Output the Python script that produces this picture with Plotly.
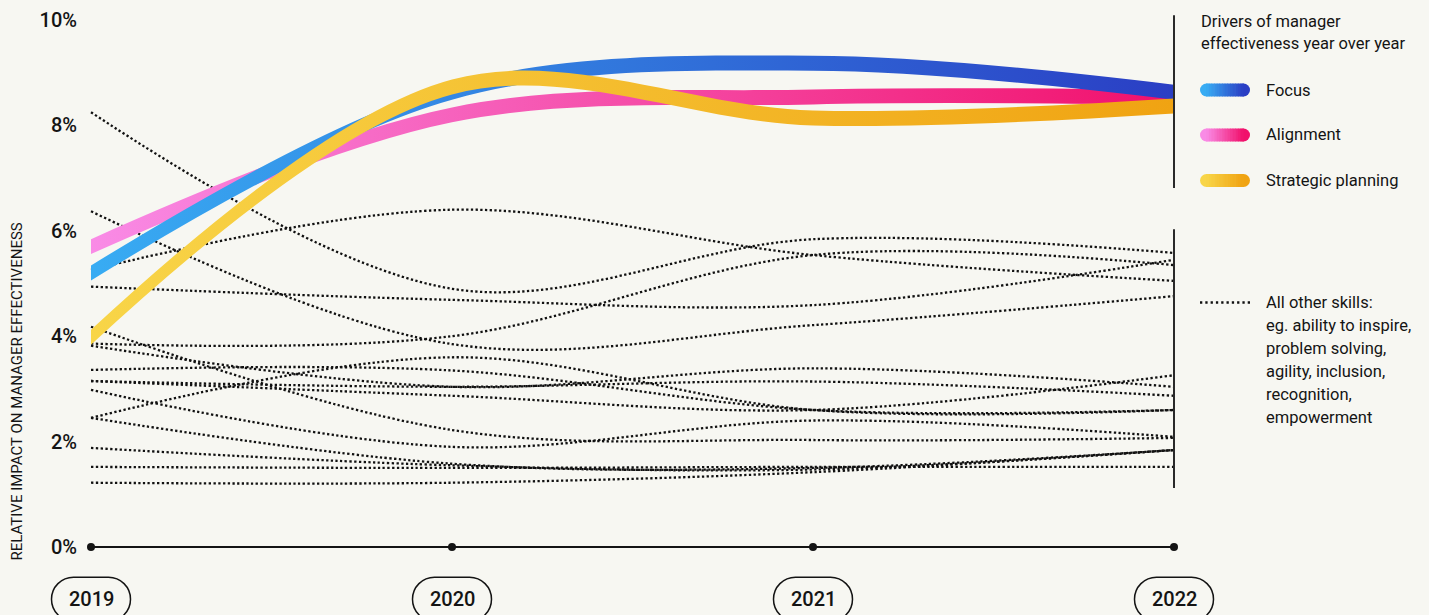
import plotly.graph_objects as go

# ---------------- data ----------------
years = [2019, 2020, 2021, 2022]
year_labels = ["2019", "2020", "2021", "2022"]

focus = [5.20, 8.63, 9.18, 8.63]
alignment = [5.70, 8.20, 8.54, 8.53]
strategic = [3.98, 8.73, 8.14, 8.37]

# "All other skills": the i-th entry of each year array belongs to the same skill
other_2019 = [8.25, 5.26, 6.37, 4.94, 3.86, 4.18, 3.82, 3.36, 3.15, 3.15, 2.98, 2.45, 2.45, 1.88, 1.52, 1.22]
other_2020 = [4.90, 6.40, 3.85, 4.69, 4.00, 2.22, 3.04, 3.35, 2.87, 3.04, 1.90, 3.60, 1.58, 1.55, 1.50, 1.22]
other_2021 = [5.84, 5.54, 4.21, 4.59, 5.54, 2.03, 3.39, 2.60, 2.60, 3.14, 2.40, 2.60, 1.50, 1.47, 1.52, 1.42]
other_2022 = [5.58, 5.05, 4.76, 5.45, 5.35, 2.07, 3.04, 2.60, 3.26, 2.87, 2.09, 2.60, 1.84, 1.84, 1.52, 1.84]

y_ticks = [0, 2, 4, 6, 8, 10]
y_tick_labels = ["0%", "2%", "4%", "6%", "8%", "10%"]

driver_names = ["Focus", "Alignment", "Strategic planning"]
legend_title = ["Drivers of manager", "effectiveness year over year"]
other_text = ["All other skills:", "eg. ability to inspire,", "problem solving,",
              "agility, inclusion,", "recognition,", "empowerment"]
axis_title = "RELATIVE IMPACT ON MANAGER EFFECTIVENESS"

# ---------------- style ----------------
W, H = 1429, 615
BG = "#F7F7F2"
INK = "#141414"
FONT = "Roboto"
gradients = {
    "Focus": ("#38ACF3", "#2A3EC4"),
    "Alignment": ("#F98BE6", "#F1106B"),
    "Strategic planning": ("#F8D548", "#F0A312"),
}
HALF = 0.142  # half thickness of driver bands (in % units)

fig = go.Figure()

# dotted lines: all other skills
for i in range(len(other_2019)):
    vals = [other_2019[i], other_2020[i], other_2021[i], other_2022[i]]
    fig.add_trace(go.Scatter(
        x=years, y=vals, mode="lines",
        line=dict(color="#111111", width=2.3, dash="2.3px,2.4px", shape="spline"),
        hoverinfo="skip", showlegend=False))

# driver bands with horizontal gradient (pink, blue, yellow on top)
for name, series in [("Alignment", alignment), ("Focus", focus), ("Strategic planning", strategic)]:
    c0, c1 = gradients[name]
    fig.add_trace(go.Scatter(
        x=years, y=[v - HALF for v in series], mode="lines",
        line=dict(width=0, shape="spline"), hoverinfo="skip", showlegend=False))
    fig.add_trace(go.Scatter(
        x=years, y=[v + HALF for v in series], mode="lines",
        line=dict(width=0, shape="spline"), fill="tonexty",
        fillgradient=dict(type="horizontal", colorscale=[[0, c0], [1, c1]]),
        name=name, hoverinfo="skip", showlegend=False))

# baseline with year dots
fig.add_trace(go.Scatter(
    x=years, y=[0] * len(years), mode="lines+markers",
    line=dict(color=INK, width=2), marker=dict(color=INK, size=8),
    hoverinfo="skip", showlegend=False))

shapes = []
annotations = []

# year pills + labels
PILL_Y = -0.99
k = 0.5523
hw, hh, r = 39.5, 22.0, 22.0
sx = hw - r
pill_path = (
    f"M {-sx},{hh} L {sx},{hh} "
    f"C {sx + k*r},{hh} {hw},{k*hh} {hw},0 "
    f"C {hw},{-k*hh} {sx + k*r},{-hh} {sx},{-hh} "
    f"L {-sx},{-hh} "
    f"C {-sx - k*r},{-hh} {-hw},{-k*hh} {-hw},0 "
    f"C {-hw},{k*hh} {-sx - k*r},{hh} {-sx},{hh} Z"
)
for yr, lab in zip(years, year_labels):
    shapes.append(dict(type="path", xref="x", yref="y", xsizemode="pixel", ysizemode="pixel",
                       xanchor=yr, yanchor=PILL_Y, path=pill_path,
                       line=dict(color=INK, width=1.5), fillcolor="rgba(0,0,0,0)"))
    annotations.append(dict(x=yr, y=PILL_Y, xref="x", yref="y", text=lab, showarrow=False,
                            xanchor="center", yanchor="middle",
                            font=dict(family=FONT, size=20, color=INK, weight=500)))

# divider lines at the 2022 column
for y0, y1 in [(6.81, 10.09), (1.12, 6.03)]:
    shapes.append(dict(type="line", xref="x", yref="y", x0=years[-1], x1=years[-1], y0=y0, y1=y1,
                       line=dict(color="#2a2a2a", width=2)))


def px(x):
    return x / W


def py(y):
    return 1 - y / H


def hex_to_rgb(h):
    h = h.lstrip("#")
    return tuple(int(h[j:j + 2], 16) for j in (0, 2, 4))


def mix(a, b, t):
    ra, rb = hex_to_rgb(a), hex_to_rgb(b)
    return "rgb(%d,%d,%d)" % tuple(round(ra[j] + (rb[j] - ra[j]) * t) for j in range(3))


def gradient_pill(xl, xr, yc, th, c0, c1, n=14):
    rr = th / 2
    out = [
        dict(type="circle", xref="paper", yref="paper", x0=px(xl), x1=px(xl + th),
             y0=py(yc + rr), y1=py(yc - rr), fillcolor=c0, line=dict(width=0)),
        dict(type="circle", xref="paper", yref="paper", x0=px(xr - th), x1=px(xr),
             y0=py(yc + rr), y1=py(yc - rr), fillcolor=c1, line=dict(width=0)),
    ]
    a, b = xl + rr, xr - rr
    step = (b - a) / n
    for j in range(n):
        out.append(dict(type="rect", xref="paper", yref="paper",
                        x0=px(a + j * step - 0.3), x1=px(a + (j + 1) * step + 0.3),
                        y0=py(yc + rr), y1=py(yc - rr),
                        fillcolor=mix(c0, c1, (j + 0.5) / n), line=dict(width=0)))
    return out


# legend
LX, TX = 1200, 1264
for txt, yy in zip(legend_title, [21.5, 43.5]):
    annotations.append(dict(x=px(LX - 1), y=py(yy), xref="paper", yref="paper", text=txt,
                            showarrow=False, xanchor="left", yanchor="middle",
                            font=dict(family=FONT, size=16.5, color=INK)))
for name, yy in zip(driver_names, [90, 135, 180.5]):
    c0, c1 = gradients[name]
    shapes += gradient_pill(LX, LX + 50, yy, 13, c0, c1)
    annotations.append(dict(x=px(TX), y=py(yy), xref="paper", yref="paper", text=name,
                            showarrow=False, xanchor="left", yanchor="middle",
                            font=dict(family=FONT, size=16.5, color=INK)))

shapes.append(dict(type="line", xref="paper", yref="paper", x0=px(LX), x1=px(LX + 50),
                   y0=py(302.5), y1=py(302.5), line=dict(color="#111111", width=2.3, dash="2.3px,3px")))
for j, txt in enumerate(other_text):
    annotations.append(dict(x=px(TX), y=py(302.5 + 22.9 * j), xref="paper", yref="paper", text=txt,
                            showarrow=False, xanchor="left", yanchor="middle",
                            font=dict(family=FONT, size=16.5, color=INK)))

# y axis title
annotations.append(dict(x=px(16), y=py(391.5), xref="paper", yref="paper", text=axis_title,
                        showarrow=False, textangle=-90, xanchor="center", yanchor="middle",
                        font=dict(family=FONT, size=15, color=INK)))

# axis mapping: 2019 -> x=91px, 2022 -> x=1174px ; 0% -> y=547px, 10% -> y=20px
x_per_year = (1174 - 91) / 3
x_range = [years[0] - 91 / x_per_year, years[0] + (W - 91) / x_per_year]
y_per_pct = (547 - 20) / 10
y_range = [-(H - 547) / y_per_pct, 547 / y_per_pct]

fig.update_layout(
    template="none",
    width=W, height=H,
    margin=dict(l=0, r=0, t=0, b=0, pad=0),
    paper_bgcolor=BG, plot_bgcolor=BG,
    font=dict(family=FONT, color=INK),
    showlegend=False,
    xaxis=dict(range=x_range, domain=[0, 1], visible=False, fixedrange=True),
    yaxis=dict(range=y_range, domain=[0, 1], anchor="free", position=px(77),
               tickvals=y_ticks, ticktext=y_tick_labels, ticks="", showgrid=False,
               zeroline=False, showline=False, automargin=False,
               tickfont=dict(family=FONT, size=20, color=INK, weight=500)),
    shapes=shapes,
    annotations=annotations,
)

fig.write_html("out.html")
